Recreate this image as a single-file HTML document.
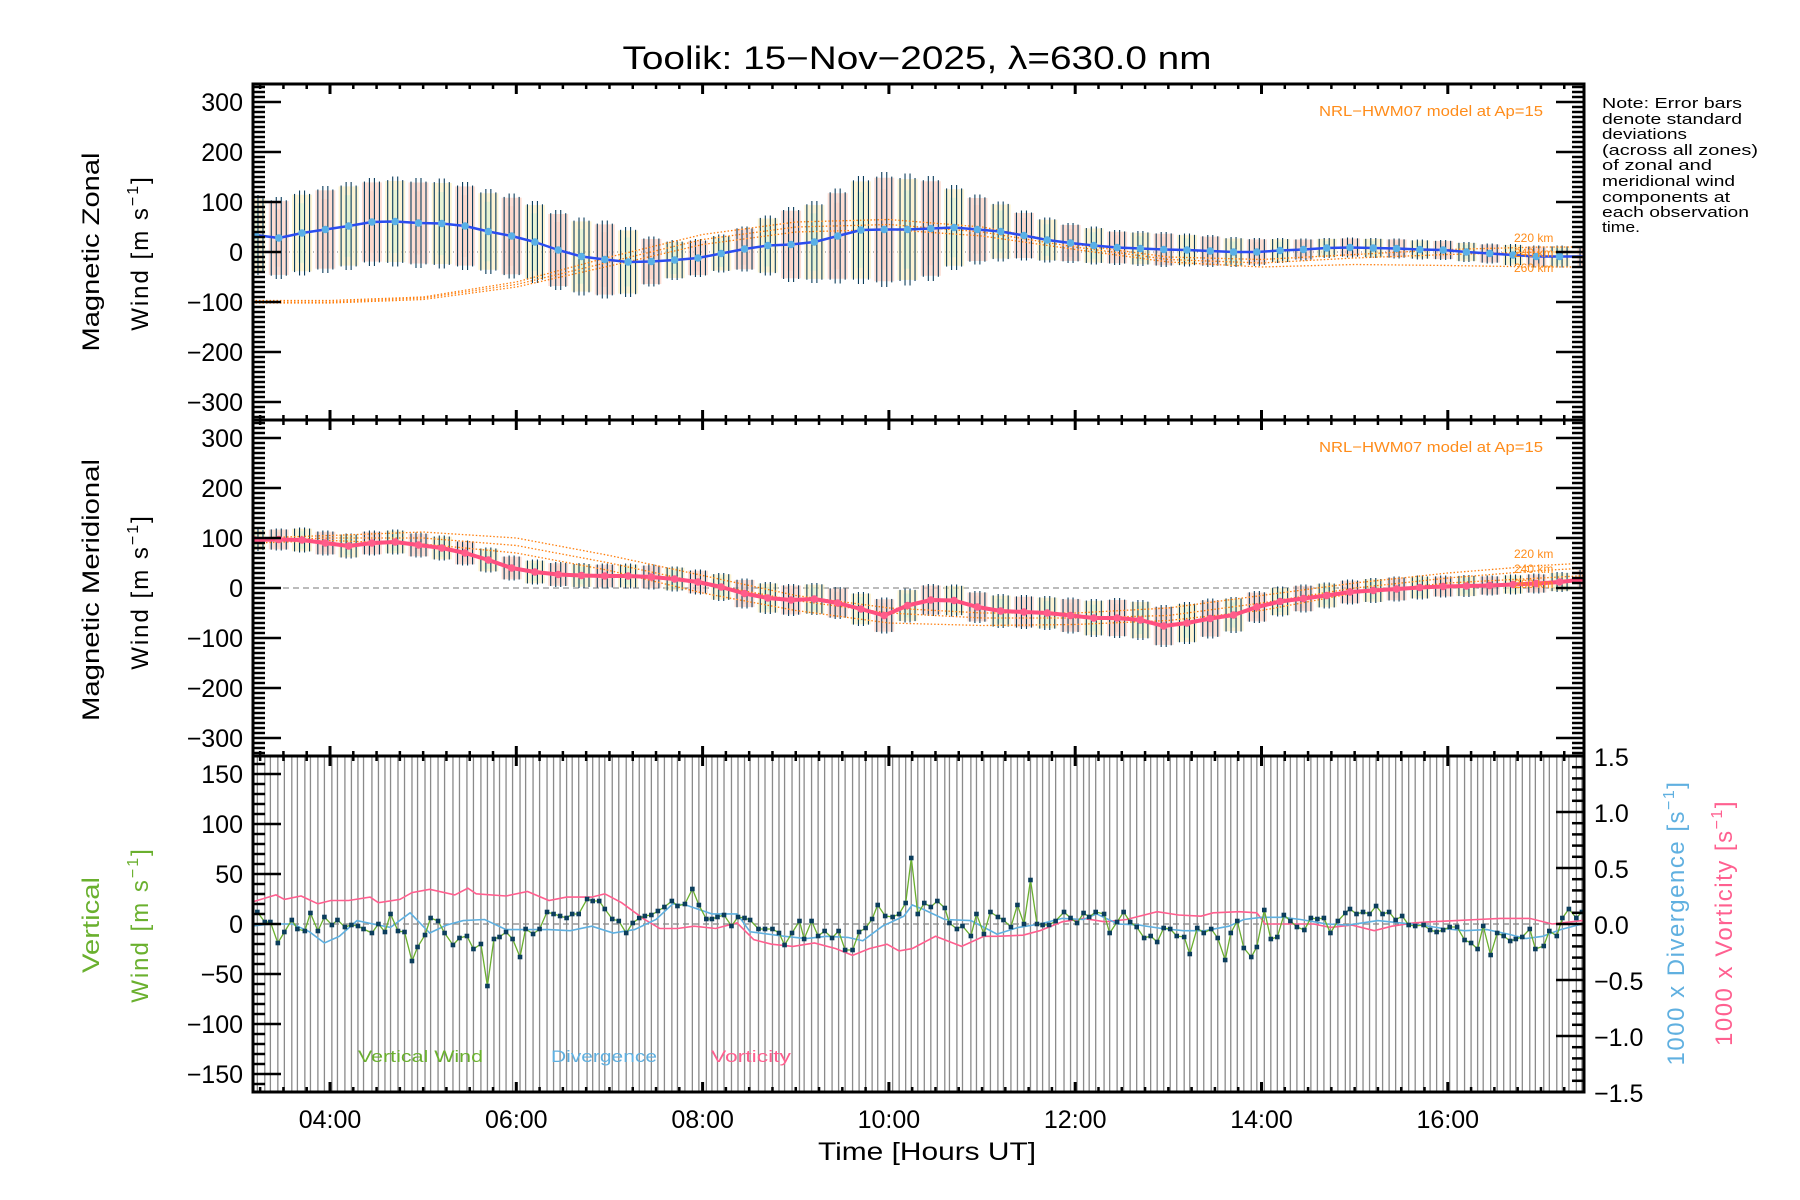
<!DOCTYPE html>
<html>
<head>
<meta charset="utf-8">
<style>
html,body{margin:0;padding:0;background:#fff;}
svg{display:block;font-family:"Liberation Sans",sans-serif;}
</style>
</head>
<body>
<svg id="chart" width="1800" height="1200" viewBox="0 0 1800 1200" xmlns="http://www.w3.org/2000/svg">
  <defs>
    <clipPath id="c1"><rect x="253" y="84" width="1331" height="336"/></clipPath>
    <clipPath id="c2"><rect x="253" y="420" width="1331" height="336"/></clipPath>
    <clipPath id="c3"><rect x="253" y="756" width="1331" height="336"/></clipPath>
  </defs>
  <text x="917" y="69" font-size="32" text-anchor="middle" textLength="589" lengthAdjust="spacingAndGlyphs">Toolik: 15−Nov−2025, λ=630.0 nm</text>

  <g id="g1" clip-path="url(#c1)"></g>
  <g id="g2" clip-path="url(#c2)"></g>
  <g id="g3" clip-path="url(#c3)"></g>
  <g id="axes"></g>

  <text transform="translate(99,252) rotate(-90)" font-size="24" text-anchor="middle" textLength="199" lengthAdjust="spacingAndGlyphs">Magnetic Zonal</text>
  <text transform="translate(148,253) rotate(-90)" font-size="24" text-anchor="middle" letter-spacing="2">Wind [m s<tspan dy="-10" font-size="16">−1</tspan><tspan dy="10">]</tspan></text>
  <text x="1543" y="116" font-size="15" fill="#ff8c1a" text-anchor="end" textLength="224" lengthAdjust="spacingAndGlyphs">NRL−HWM07 model at Ap=15</text>
  <text x="1514" y="242" font-size="12" fill="#ff8c1a">220 km</text>
  <text x="1514" y="257" font-size="12" fill="#ff8c1a">240 km</text>
  <text x="1514" y="272" font-size="12" fill="#ff8c1a">260 km</text>

  <text transform="translate(99,590) rotate(-90)" font-size="24" text-anchor="middle" textLength="262" lengthAdjust="spacingAndGlyphs">Magnetic Meridional</text>
  <text transform="translate(148,592) rotate(-90)" font-size="24" text-anchor="middle" letter-spacing="2">Wind [m s<tspan dy="-10" font-size="16">−1</tspan><tspan dy="10">]</tspan></text>
  <text x="1543" y="452" font-size="15" fill="#ff8c1a" text-anchor="end" textLength="224" lengthAdjust="spacingAndGlyphs">NRL−HWM07 model at Ap=15</text>
  <text x="1514" y="558" font-size="12" fill="#ff8c1a">220 km</text>
  <text x="1514" y="573" font-size="12" fill="#ff8c1a">240 km</text>
  <text x="1514" y="588" font-size="12" fill="#ff8c1a">260 km</text>

  <text transform="translate(99,925) rotate(-90)" font-size="24" fill="#6ab02e" text-anchor="middle" textLength="96" lengthAdjust="spacingAndGlyphs">Vertical</text>
  <text transform="translate(148,925) rotate(-90)" font-size="24" fill="#6ab02e" text-anchor="middle" letter-spacing="2">Wind [m s<tspan dy="-10" font-size="16">−1</tspan><tspan dy="10">]</tspan></text>
  <text transform="translate(1684,923) rotate(-90)" font-size="24" fill="#60b0e0" text-anchor="middle" letter-spacing="1.5">1000 x Divergence [s<tspan dy="-10" font-size="16">−1</tspan><tspan dy="10">]</tspan></text>
  <text transform="translate(1732,923) rotate(-90)" font-size="24" fill="#ff6090" text-anchor="middle" letter-spacing="1.5">1000 x Vorticity [s<tspan dy="-10" font-size="16">−1</tspan><tspan dy="10">]</tspan></text>
  <text x="358" y="1062" font-size="17" fill="#6ab02e" textLength="125" lengthAdjust="spacingAndGlyphs">Vertical Wind</text>
  <text x="551" y="1062" font-size="17" fill="#60b0e0" textLength="106" lengthAdjust="spacingAndGlyphs">Divergence</text>
  <text x="711" y="1062" font-size="17" fill="#ff6090" textLength="80" lengthAdjust="spacingAndGlyphs">Vorticity</text>

  <text x="927" y="1160" font-size="25" text-anchor="middle" textLength="218" lengthAdjust="spacingAndGlyphs">Time [Hours UT]</text>

  <g font-size="15">
    <text x="1602" y="108" textLength="140" lengthAdjust="spacingAndGlyphs">Note: Error bars</text>
    <text x="1602" y="124" textLength="140" lengthAdjust="spacingAndGlyphs">denote standard</text>
    <text x="1602" y="139" textLength="85" lengthAdjust="spacingAndGlyphs">deviations</text>
    <text x="1602" y="155" textLength="156" lengthAdjust="spacingAndGlyphs">(across all zones)</text>
    <text x="1602" y="170" textLength="110" lengthAdjust="spacingAndGlyphs">of zonal and</text>
    <text x="1602" y="186" textLength="133" lengthAdjust="spacingAndGlyphs">meridional wind</text>
    <text x="1602" y="202" textLength="128" lengthAdjust="spacingAndGlyphs">components at</text>
    <text x="1602" y="217" textLength="147" lengthAdjust="spacingAndGlyphs">each observation</text>
    <text x="1602" y="232" textLength="38" lengthAdjust="spacingAndGlyphs">time.</text>
  </g>
</svg>
<script>
const fitTimes = [3.2,3.45,3.7,3.95,4.2,4.45,4.7,4.95,5.2,5.45,5.7,5.95,6.2,6.45,6.7,6.95,7.2,7.45,7.7,7.95,8.2,8.45,8.7,8.95,9.2,9.45,9.7,9.95,10.2,10.45,10.7,10.95,11.2,11.45,11.7,11.95,12.2,12.45,12.7,12.95,13.2,13.45,13.7,13.95,14.2,14.45,14.7,14.95,15.2,15.45,15.7,15.95,16.2,16.45,16.7,16.95,17.2,17.5];
const zonalWind = [34,28,38,45,52,60,61,58,57,52,41,32,20,4,-9,-15,-20,-19,-16,-12,-3,6,13,15,20,32,44,45,45,47,49,45,41,33,24,18,13,9,7,5,4,2,0,0,3,5,8,9,8,7,5,4,0,-3,-6,-9,-9,-9];
const zonalSd = [80,82,85,87,88,88,90,90,90,88,85,85,82,80,78,78,70,50,40,38,38,45,60,75,82,95,108,115,112,105,85,70,60,50,45,40,38,35,35,35,33,32,30,28,25,22,20,20,20,20,20,20,20,20,22,22,22,22];
const meridWind = [96,97,96,90,84,90,92,86,80,70,56,40,32,27,25,24,24,22,18,12,2,-11,-20,-24,-22,-30,-42,-55,-35,-24,-25,-38,-46,-48,-50,-55,-60,-60,-64,-76,-70,-61,-54,-38,-27,-21,-15,-8,-5,-2,1,3,4,5,7,9,12,18];
const meridSd = [22,22,25,25,25,25,25,25,25,25,25,25,25,25,25,25,25,25,25,25,28,30,32,32,32,32,34,36,34,32,32,32,34,34,34,36,38,40,40,42,42,40,36,32,30,28,26,25,25,25,24,22,22,20,20,20,20,20];

const modelTimes = [3.2,4,5,6,7,8,9,10,11,12,13,14,15,16,17,17.5];
const zonal220 = [-97,-97,-90,-60,-10,35,60,65,50,15,-10,-15,-5,5,10,10];
const zonal240 = [-100,-100,-92,-65,-20,25,50,55,40,10,-15,-22,-12,-5,0,0];
const zonal260 = [-102,-102,-95,-70,-28,15,40,45,32,5,-20,-30,-25,-27,-30,-30];
const merid220 = [100,105,112,100,65,25,-15,-40,-50,-50,-40,-15,10,30,45,50];
const merid240 = [95,100,100,85,50,10,-25,-50,-60,-60,-55,-30,0,20,35,40];
const merid260 = [90,95,88,70,35,-10,-45,-70,-75,-73,-65,-45,-10,10,20,25];

const vwTimes = [3.22,3.30,3.36,3.44,3.51,3.59,3.65,3.73,3.79,3.87,3.94,4.02,4.08,4.16,4.23,4.30,4.36,4.45,4.52,4.59,4.65,4.73,4.80,4.88,4.94,5.02,5.08,5.16,5.23,5.32,5.39,5.47,5.54,5.62,5.69,5.76,5.82,5.89,5.96,6.04,6.10,6.18,6.25,6.33,6.40,6.47,6.54,6.60,6.67,6.76,6.82,6.89,6.95,7.03,7.10,7.18,7.25,7.32,7.38,7.45,7.52,7.59,7.67,7.73,7.81,7.89,7.96,8.04,8.10,8.16,8.23,8.31,8.38,8.45,8.51,8.60,8.67,8.75,8.82,8.88,8.96,9.04,9.09,9.17,9.24,9.31,9.39,9.46,9.53,9.61,9.68,9.75,9.82,9.88,9.96,10.04,10.11,10.18,10.24,10.31,10.38,10.45,10.52,10.60,10.65,10.73,10.79,10.88,10.94,11.02,11.09,11.17,11.23,11.31,11.38,11.45,11.52,11.59,11.65,11.72,11.79,11.88,11.95,12.02,12.09,12.15,12.22,12.31,12.37,12.45,12.52,12.59,12.66,12.74,12.81,12.88,12.95,13.02,13.09,13.17,13.23,13.31,13.38,13.46,13.53,13.61,13.67,13.74,13.81,13.89,13.95,14.03,14.10,14.17,14.24,14.31,14.38,14.46,14.53,14.60,14.67,14.74,14.82,14.90,14.95,15.02,15.09,15.16,15.23,15.30,15.37,15.44,15.51,15.58,15.65,15.74,15.81,15.88,15.95,16.02,16.10,16.18,16.25,16.32,16.38,16.46,16.53,16.60,16.67,16.73,16.80,16.88,16.94,17.03,17.09,17.17,17.23,17.30,17.38,17.44];
const vwValues = [12,2,2,-19,-8,4,-5,-7,11,-7,7,-1,4,-3,-1,-2,-5,-9,0,-8,10,-7,-8,-37,-23,-11,6,3,-9,-21,-14,-12,-25,-20,-62,-15,-13,-8,-15,-33,-5,-10,-5,12,10,8,6,10,10,25,23,23,15,5,3,-9,1,6,8,9,13,17,23,18,20,35,19,5,5,7,9,-2,7,6,4,-5,-5,-5,-9,-21,-9,3,-15,3,-12,-7,-14,-7,-26,-26,-8,-4,5,19,8,7,10,21,66,10,21,17,23,16,1,-5,-2,-12,10,-10,12,7,4,-3,19,0,44,0,-1,-1,3,12,6,1,11,7,12,10,-9,2,12,2,-3,-14,-12,-18,-4,-5,-12,-13,-30,-4,-9,-5,-14,-36,-9,3,-24,-33,-23,14,-15,-13,9,3,-3,-6,6,5,6,-9,3,11,15,10,12,10,18,10,12,4,8,-1,-2,-1,-6,-8,-6,-3,-3,-16,-19,-25,-2,-31,-9,-12,-17,-15,-13,-5,-25,-22,-7,-12,6,15,6,12];

const divTimes = [3.14,3.37,3.6,3.78,3.94,4.10,4.29,4.52,4.65,4.86,5.07,5.25,5.43,5.66,5.89,6.12,6.35,6.58,6.81,7.04,7.27,7.50,7.68,7.82,8.10,8.37,8.51,8.88,9.11,9.33,9.56,9.72,9.93,10.16,10.25,10.37,10.60,10.88,11.16,11.39,11.62,11.86,12.09,12.23,12.46,12.69,12.93,13.16,13.39,13.65,13.81,14.0,14.23,14.42,14.7,14.93,15.25,15.49,15.72,15.95,16.18,16.42,16.65,16.84,17.02,17.21,17.44,17.55];
const divValues = [-0.02,0,0,-0.07,-0.17,-0.11,0.03,-0.01,-0.03,0.10,-0.08,-0.01,0.03,0.04,-0.05,-0.05,-0.05,-0.06,-0.02,-0.08,-0.05,0.04,0.18,0.17,0.09,0.09,-0.07,-0.11,-0.13,-0.11,-0.12,-0.15,-0.02,0.07,0.17,0.13,0.04,0.03,-0.09,-0.03,0,0.05,0.04,0.09,0,-0.01,-0.04,-0.06,-0.06,-0.02,0.04,0.06,0.06,0.04,0,-0.01,0.03,0.01,-0.01,-0.04,-0.06,-0.05,-0.09,-0.13,-0.11,-0.05,0,0.01];
const vortTimes = [3.14,3.42,3.51,3.69,3.87,4.01,4.20,4.43,4.52,4.75,4.88,5.07,5.34,5.48,5.57,5.89,6.12,6.35,6.54,6.81,6.95,7.13,7.36,7.54,7.73,7.91,8.14,8.37,8.55,8.74,8.97,9.20,9.43,9.61,9.79,9.98,10.11,10.25,10.5,10.78,11.02,11.16,11.44,11.62,11.86,12.09,12.32,12.55,12.88,13.11,13.35,13.48,13.76,13.95,14.04,14.32,14.56,14.74,14.97,15.21,15.4,15.63,15.81,16.09,16.32,16.56,16.88,17.12,17.44,17.55];
const vortValues = [0.19,0.26,0.22,0.25,0.18,0.21,0.21,0.24,0.19,0.22,0.28,0.31,0.26,0.32,0.27,0.25,0.29,0.21,0.24,0.24,0.27,0.19,0.05,-0.04,-0.04,-0.02,-0.04,0.01,-0.14,-0.18,-0.2,-0.17,-0.22,-0.28,-0.22,-0.18,-0.24,-0.22,-0.11,-0.20,-0.11,-0.11,-0.1,-0.06,0.02,0.05,0.02,0.04,0.11,0.08,0.07,0.1,0.11,0.1,0,0,0,-0.03,-0.01,-0.06,-0.02,0.01,0.02,0.03,0.04,0.05,0.05,0,0.03,0.03];

const xTickLabels = ["04:00","06:00","08:00","10:00","12:00","14:00","16:00"];
const xTickHours = [4,6,8,10,12,14,16];
const windTicks = [300,200,100,0,-100,-200,-300];
const vertTicks = [150,100,50,0,-50,-100,-150];
const rightTicks = [1.5,1.0,0.5,0.0,-0.5,-1.0,-1.5];

const NS = "http://www.w3.org/2000/svg";
const X0 = 253, X1 = 1584;
const PT = [84, 420, 756], PH = 336;
function xs(t){ return 330 + (t - 4) * 93.15; }
function y1(v){ return 252 - v * 0.5; }
function y2(v){ return 588 - v * 0.5; }
function y3(v){ return 924 - v * 1.0; }
function y3r(v){ return 924 - v * 112; }
function mk(tag, attrs, parent){
  const e = document.createElementNS(NS, tag);
  for (const k in attrs) e.setAttribute(k, attrs[k]);
  parent.appendChild(e);
  return e;
}
const g1 = document.getElementById('g1');
const g2 = document.getElementById('g2');
const g3 = document.getElementById('g3');
const ax = document.getElementById('axes');

function pts(times, vals, ys){ return times.map((t,i)=> xs(t).toFixed(1)+','+ys(vals[i]).toFixed(1)).join(' '); }

function windPanel(g, times, vals, sds, ys, lineColor, lineW, dotColor, m220, m240, m260, zeroDash, prefix){
  const z = mk('line', {x1:X0, x2:X1, y1:ys(0), y2:ys(0), stroke:'#777', 'stroke-width':1, 'stroke-dasharray':zeroDash}, g);
  
  
  const pastel = ['#fcecb8','#fbc8b8','#d8f2d4','#fbd2c4'];
  times.forEach((t,i)=>{
    const x = xs(t), s = sds[i], v = vals[i];
    const r1 = mk('rect', {x:x-10, y:ys(v+s*0.9), width:20, height:ys(v-s*0.9)-ys(v+s*0.9), fill:pastel[i%2], opacity:0.6}, g);
    
    
    const r2 = mk('rect', {x:x-4, y:ys(v+s*0.7), width:7, height:ys(v-s*0.7)-ys(v+s*0.7), fill:pastel[2+(i%2)], opacity:0.6}, g);
    
    
  });
  times.forEach((t,i)=>{
    const x = xs(t), s = sds[i], v = vals[i];
    [-7.5, -2.5, 2.5, 7.5].forEach((off,k)=>{
      const f = (k===1||k===2) ? 1 : 0.92;
      const b = mk('line', {x1:x+off, x2:x+off, y1:ys(v+s*f), y2:ys(v-s*f), stroke:'#0b3d5c', 'stroke-width':1.1}, g);
      
      
    });
  });
  [[m220,'220'],[m240,'240'],[m260,'260']].forEach(([m,k])=>{
    const p = mk('polyline', {points:pts(modelTimes, m, ys), fill:'none', stroke:'#ff7f0e', 'stroke-width':1.3, 'stroke-dasharray':'1.5,2'}, g);
    
    
  });
  const l = mk('polyline', {points:pts(times, vals, ys), fill:'none', stroke:lineColor, 'stroke-width':lineW, 'stroke-linejoin':'round'}, g);
  
  
  times.forEach((t,i)=>{
    const c = mk('circle', {cx:xs(t), cy:ys(vals[i]), r:3.8, fill:dotColor}, g);
    
    
  });
}
windPanel(g1, fitTimes, zonalWind, zonalSd, y1, '#2b4cf0', 2.5, '#5ab0e6', zonal220, zonal240, zonal260, '1,3', 'zonal');
windPanel(g2, fitTimes, meridWind, meridSd, y2, '#ff4f7f', 4, '#ff5d8a', merid220, merid240, merid260, '6,4', 'meridional');

vwTimes.forEach(t=>{
  const gl = mk('line', {x1:xs(t), x2:xs(t), y1:756, y2:1092, stroke:'#8a8a8a', 'stroke-width':1.3}, g3);
  
  
});
const z3 = mk('line', {x1:X0, x2:X1, y1:924, y2:924, stroke:'#888', 'stroke-width':1.2, 'stroke-dasharray':'6,4'}, g3);


const vortLine = mk('polyline', {points:pts(vortTimes, vortValues, y3r), fill:'none', stroke:'#ff5f8f', 'stroke-width':1.6}, g3);


const divLine = mk('polyline', {points:pts(divTimes, divValues, y3r), fill:'none', stroke:'#5fb0e0', 'stroke-width':1.6}, g3);


const vwLine = mk('polyline', {points:pts(vwTimes, vwValues, y3), fill:'none', stroke:'#6ab02e', 'stroke-width':1.3}, g3);


vwTimes.forEach((t,i)=>{
  const m = mk('rect', {x:xs(t)-2.3, y:y3(vwValues[i])-2.3, width:4.6, height:4.6, fill:'#0b3d5c'}, g3);
  
  
});

function tline(x1,y1_,x2,y2_,w,name){
  const l = mk('line', {x1:x1, y1:y1_, x2:x2, y2:y2_, stroke:'#000', 'stroke-width':w}, ax);
  
  
}
function ttext(x,y,s,anchor,size,name){
  const t = mk('text', {x:x, y:y, 'font-size':size, 'text-anchor':anchor}, ax);
  t.textContent = s;
  
  
}
PT.forEach((top,pi)=>{
  const bot = top + PH;
  for (let q = 13; q <= 70; q++){
    const t = q / 4, x = xs(t);
    if (x < X0 || x > X1) continue;
    const major = (q % 8 === 0);
    const len = major ? 10 : 5;
    tline(x, top, x, top+len, major?3:2.5, 'x-tick-top');
    tline(x, bot, x, bot-len, major?3:2.5, 'x-tick-bottom');
  }
  if (pi < 2){
    const ys = pi===0 ? y1 : y2;
    for (let v = -330; v <= 330; v += 10){
      const y = ys(v); if (y < top || y > bot) continue;
      const major = (v % 100 === 0);
      tline(X0, y, X0 + (major?28:12), y, 2.5, 'y-tick-left');
      tline(X1, y, X1 - (major?28:12), y, 2.5, 'y-tick-right');
    }
    windTicks.forEach(v=> ttext(243, ys(v)+9, String(v).replace('-','−'), 'end', 25, 'y-tick-label'));
  } else {
    for (let v = -160; v <= 160; v += 10){
      const y = y3(v); const major = (v % 50 === 0);
      tline(X0, y, X0 + (major?28:12), y, 2.5, 'y-tick-left');
    }
    for (let k = -15; k <= 15; k++){
      const y = y3r(k/10); const major = (k % 5 === 0);
      tline(X1, y, X1 - (major?28:12), y, 2.5, 'y-tick-right');
    }
    vertTicks.forEach(v=> ttext(243, y3(v)+9, String(v).replace('-','−'), 'end', 25, 'y-tick-label'));
    rightTicks.forEach(v=> ttext(1594, y3r(v)+10, (v<0?'−':'')+Math.abs(v).toFixed(1), 'start', 25, 'right-tick-label'));
  }
  const fr = mk('rect', {x:X0, y:top, width:X1-X0, height:PH, fill:'none', stroke:'#000', 'stroke-width':3}, ax);
  
  
});
xTickHours.forEach((h,i)=> ttext(xs(h), 1128, xTickLabels[i], 'middle', 25, 'x-tick-label'));
</script>
</body>
</html>
